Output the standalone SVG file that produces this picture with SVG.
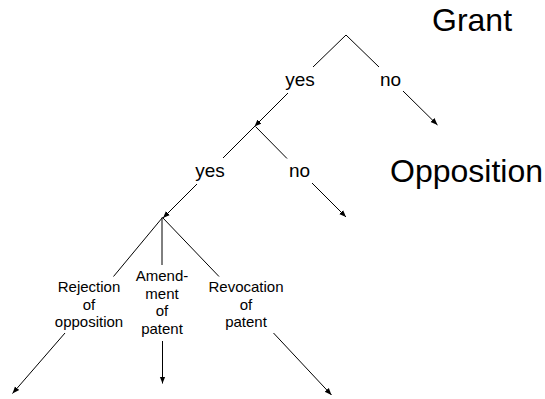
<svg xmlns="http://www.w3.org/2000/svg" width="545" height="399" viewBox="0 0 545 399">
<style>
text{font-family:"Liberation Sans",Arial,sans-serif;fill:#000}
.big{font-size:32px}
.mid{font-size:19px;text-anchor:middle}
.sm{font-size:15px;text-anchor:middle}
.c line{stroke:#000;stroke-width:1}
.a{marker-end:url(#ah)}
</style>
<defs>
<marker id="ah" viewBox="0 0 10 10" refX="10" refY="5" markerWidth="7" markerHeight="7" markerUnits="userSpaceOnUse" orient="auto">
<path d="M0,1 L10,5 L0,9 z" fill="#000"/>
</marker>
</defs>
<rect width="545" height="399" fill="#fff"/>
<g id="grant"><text class="big" x="432" y="31">Grant</text></g>
<g id="opposition"><text class="big" x="390" y="182">Opposition</text></g>
<g id="yes1"><text class="mid" x="300" y="86">yes</text></g>
<g id="no1"><text class="mid" x="390.5" y="86">no</text></g>
<g id="yes2"><text class="mid" x="210" y="177">yes</text></g>
<g id="no2"><text class="mid" x="299.5" y="177">no</text></g>
<g id="rejection"><text class="sm" x="89" y="292"><tspan x="89">Rejection</tspan><tspan x="89" dy="17.6">of</tspan><tspan x="89" dy="17.6">opposition</tspan></text></g>
<g id="amendment"><text class="sm" x="162" y="281"><tspan x="162">Amend-</tspan><tspan x="162" dy="17.6">ment</tspan><tspan x="162" dy="17.6">of</tspan><tspan x="162" dy="17.6">patent</tspan></text></g>
<g id="revocation"><text class="sm" x="246" y="292"><tspan x="246">Revocation</tspan><tspan x="246" dy="17.6">of</tspan><tspan x="246" dy="17.6">patent</tspan></text></g>
<g id="connectors" class="c">
<line x1="346" y1="35" x2="313" y2="67"/>
<line x1="346" y1="35" x2="379" y2="67"/>
<line class="a" x1="288" y1="93" x2="254.5" y2="126.5"/>
<line class="a" x1="403" y1="91" x2="437.5" y2="125"/>
<line x1="255" y1="126" x2="223" y2="158"/>
<line x1="255.5" y1="126.5" x2="287" y2="158.5"/>
<line class="a" x1="197" y1="184" x2="163" y2="218"/>
<line class="a" x1="312" y1="183" x2="346" y2="217"/>
<line x1="162.5" y1="217.5" x2="113.5" y2="276.5"/>
<line x1="162" y1="217.5" x2="162" y2="265"/>
<line x1="162.5" y1="217.5" x2="219" y2="276.5"/>
<line class="a" x1="65" y1="333" x2="12.5" y2="393.5"/>
<line class="a" x1="162.5" y1="341" x2="162.5" y2="383.5"/>
<line class="a" x1="273.5" y1="333" x2="331.5" y2="395"/>
</g>
</svg>
